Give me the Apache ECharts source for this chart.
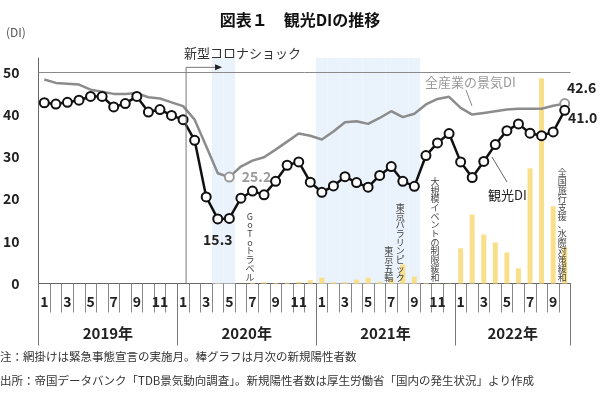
<!DOCTYPE html>
<html><head><meta charset="utf-8">
<script src="https://cdn.jsdelivr.net/npm/echarts@6/dist/echarts.min.js"></script>
<style>html,body{margin:0;padding:0;background:#fff}#c{width:600px;height:394px}</style>
</head><body><div id="c"></div>
<script>
// ---- data ----
const months = [
 '2019-01','2019-02','2019-03','2019-04','2019-05','2019-06','2019-07','2019-08','2019-09','2019-10','2019-11','2019-12',
 '2020-01','2020-02','2020-03','2020-04','2020-05','2020-06','2020-07','2020-08','2020-09','2020-10','2020-11','2020-12',
 '2021-01','2021-02','2021-03','2021-04','2021-05','2021-06','2021-07','2021-08','2021-09','2021-10','2021-11','2021-12',
 '2022-01','2022-02','2022-03','2022-04','2022-05','2022-06','2022-07','2022-08','2022-09','2022-10'];
const yearNames = ['2019年','2020年','2021年','2022年'];
const yearMonthCounts = [12,12,12,10];
const yTicks = [0,10,20,30,40,50];
const tourismDI = [
 42.8,42.5,42.9,43.4,44.3,44.3,41.8,42.6,44.3,40.6,41.2,39.8,
 38.8,33.9,20.5,15.3,15.4,20.2,21.9,21.0,24.2,28.0,28.8,24.0,
 21.6,23.1,25.3,23.9,22.8,25.6,27.7,24.2,23.0,30.3,33.3,35.5,
 28.8,25.1,28.9,32.9,36.2,37.8,35.6,35.0,35.9,41.0];
const allIndustryDI = [
 48.3,47.5,47.3,47.1,45.9,45.4,44.9,44.9,45.1,44.1,43.8,42.9,
 42.0,38.8,32.5,26.1,25.2,27.7,29.1,29.9,31.7,33.6,35.5,35.0,
 34.1,36.0,38.2,38.4,37.8,39.2,40.8,39.4,40.2,42.4,43.7,44.2,
 41.6,40.0,40.4,40.8,41.2,41.4,41.4,41.4,42.1,42.6];
// monthly new positive cases (10k persons)
const newCases = [
 0,0,0,0,0,0,0,0,0,0,0,0,
 0,0.1,0.3,1.2,0.2,0.2,1.7,3.2,1.5,1.9,4.7,9.5,
 17,4,4,11,17,5,13,55,20,1.5,0.5,0.5,
 102,200,142,119,90,44,334,595,224,105];
const emergencyMonths = ['2020-04','2020-05',
 '2021-01','2021-02','2021-03','2021-04','2021-05','2021-06','2021-07','2021-08','2021-09'];
const annotations = [
 {text:'GoToトラベル', month:'2020-07'},
 {text:'東京五輪', month:'2021-07'},
 {text:'東京パラリンピック', month:'2021-08'},
 {text:'大規模イベントの制限緩和', month:'2021-11'},
 {text:'全国旅行支援、水際対策緩和', month:'2022-10'}];

// ---- derived axis helpers ----
const yearBoundaryIdx = [0];
yearMonthCounts.forEach(c => yearBoundaryIdx.push(yearBoundaryIdx[yearBoundaryIdx.length-1] + c));
const boundaryCats = [];
for (let i = 0; i <= months.length; i++) boundaryCats.push('');
yearNames.forEach((n, k) => { boundaryCats[yearBoundaryIdx[k] + yearMonthCounts[k] / 2] = n; });
const shadeData = months.map(m => emergencyMonths.indexOf(m) >= 0 ? 1 : null);

const FF = "'Noto Sans CJK JP', 'Noto Sans', sans-serif";
const hiIdxAll = [16, 45];

const tourData = tourismDI.map((v, i) => {
  const d = {value: v};
  if (i === 15) d.label = {show:true, position:'bottom', distance:8, formatter:'15.3'};
  if (i === 45) d.label = {show:true, position:'bottom', distance:0, offset:[18,-5], formatter:'41.0'};
  return d;
});
const allData = allIndustryDI.map((v, i) => {
  const d = {value: v};
  if (i === 16) d.label = {show:true, position:'right', distance:7, formatter:'25.2', color:'#9a9a9a'};
  if (i === 45) d.label = {show:true, position:'top', distance:3, offset:[17,0], formatter:'42.6', color:'#222'};
  return d;
});

const option = {
  animation: false,
  textStyle: {fontFamily: FF},
  grid: {left: 36, right: 29.5, top: 58, bottom: 110.5},
  xAxis: [
    {type:'category', data: months, boundaryGap: true, position:'bottom',
     axisLine:{show:true, lineStyle:{color:'#666', width:1}},
     axisTick:{show:true, interval:0, length:29, lineStyle:{color:'#888'}},
     axisLabel:{interval:0, margin:11, fontSize:14, fontWeight:'bold', color:'#222', fontFamily:FF,
       formatter: v => { const m = +v.slice(5); return m % 2 === 1 ? String(m) : ''; }},
     splitLine:{show:false}},
    {type:'category', data: boundaryCats, boundaryGap: false, position:'bottom',
     axisLine:{show:false},
     axisTick:{show:true, interval:(i) => yearBoundaryIdx.indexOf(i) >= 0, length:62, lineStyle:{color:'#777'}},
     axisLabel:{interval:(i, v) => v !== '', margin:42, fontSize:15, fontWeight:'bold', color:'#222', fontFamily:FF},
     splitLine:{show:false}},
    {type:'category', data: months, boundaryGap: true, show:false}
  ],
  yAxis: [
    {type:'value', min:0, max:53.4, interval:10,
     axisLine:{show:true, lineStyle:{color:'#666'}}, axisTick:{show:false}, splitLine:{show:false},
     axisLabel:{showMaxLabel:false, fontSize:14, fontWeight:'bold', color:'#222', margin:19, fontFamily:FF,
       formatter: v => yTicks.indexOf(v) >= 0 ? String(v) : ''}},
    {type:'value', min:0, max:654, show:false, splitLine:{show:false}},
    {type:'value', min:0, max:1, show:false, splitLine:{show:false}}
  ],
  series: [
    {type:'bar', name:'緊急事態宣言', data: shadeData, xAxisIndex:2, yAxisIndex:2, barWidth:'100%', z:0, silent:true,
     itemStyle:{color:'#EAF2FB'},
     markLine:{silent:true, symbol:'none', label:{show:false}, lineStyle:{color:'#8a8a8a', width:1, type:'solid'},
       data:[{yAxis:1}]}},
    {type:'line', name:'gridline', data: months.map(() => null), z:1, silent:true, symbol:'none',
     markLine:{silent:true, symbol:'none', label:{show:false}, lineStyle:{color:'#8a8a8a', width:1, type:'solid'},
       data:[{yAxis:50}]}},
    {type:'bar', name:'新規陽性者数', data: newCases, yAxisIndex:1, barWidth:5, z:2, silent:true,
     itemStyle:{color:'#FADF8A'}},
    {type:'line', name:'全産業の景気DI', data: allData, z:3, silent:true,
     lineStyle:{color:'#8c8c8c', width:2.5},
     symbol:'circle', showSymbol:true, showAllSymbol:true,
     symbolSize:(v, p) => hiIdxAll.indexOf(p.dataIndex) >= 0 ? 9 : 0,
     itemStyle:{color:'#fff', borderColor:'#9a9a9a', borderWidth:2},
     label:{fontSize:14, fontWeight:'bold', fontFamily:FF}},
    {type:'line', name:'観光DI', data: tourData, z:4, silent:true,
     lineStyle:{color:'#111', width:2.5},
     symbol:'circle', symbolSize:9, showAllSymbol:true,
     itemStyle:{color:'#fff', borderColor:'#111', borderWidth:2},
     label:{fontSize:14, fontWeight:'bold', color:'#222', fontFamily:FF}}
  ]
};
// the shade series does not need its own top line
option.series[0].markLine = undefined;

const chart = echarts.init(document.getElementById('c'), null, {renderer:'canvas'});
chart.setOption(option);

const P = (cat, v) => chart.convertToPixel({xAxisIndex:0, yAxisIndex:0}, [cat, v]);
const y0 = P(months[0], 0)[1];
const y50 = P(months[0], 50)[1];
const xCorona = P('2020-01', 0)[0] + 3;
const arrowY = y50 - 5;

const graphics = [
  {type:'text', x:300, y:20, style:{text:'図表１　観光DIの推移', font:"bold 16px " + FF, fill:'#111', align:'center', verticalAlign:'middle'}},
  {type:'text', x:6, y:32, style:{text:'(DI)', font:"12px " + FF, fill:'#555', align:'left', verticalAlign:'middle'}},
  {type:'text', x:xCorona - 2, y:53, style:{text:'新型コロナショック', font:"13px " + FF, fill:'#333', align:'left', verticalAlign:'middle'}},
  {type:'polyline', z:10, shape:{points:[[xCorona, y0], [xCorona, arrowY], [xCorona + 30, arrowY]]}, style:{stroke:'#777', lineWidth:1, fill:null}},
  {type:'polygon', z:10, shape:{points:[[xCorona + 36, arrowY], [xCorona + 29, arrowY - 3], [xCorona + 29, arrowY + 3]]}, style:{fill:'#222'}},
  {type:'text', x:425, y:82, z:10, style:{text:'全産業の景気DI', font:"13px " + FF, fill:'#999', align:'left', verticalAlign:'middle'}},
  {type:'line', z:10, shape:{x1:466, y1:90, x2:472, y2:106}, style:{stroke:'#888', lineWidth:1}},
  {type:'text', x:488, y:195, z:10, style:{text:'観光DI', font:"13px " + FF, fill:'#222', align:'left', verticalAlign:'middle'}},
  {type:'line', z:10, shape:{x1:492, y1:157, x2:507, y2:182}, style:{stroke:'#666', lineWidth:1}},
  {type:'text', x:0, y:357, style:{text:'注：網掛けは緊急事態宣言の実施月。棒グラフは月次の新規陽性者数', font:"11.5px " + FF, fill:'#333', align:'left', verticalAlign:'middle'}},
  {type:'text', x:0, y:381, style:{text:'出所：帝国データバンク「TDB景気動向調査」。新規陽性者数は厚生労働省「国内の発生状況」より作成', font:"11.5px " + FF, fill:'#333', align:'left', verticalAlign:'middle'}}
];
annotations.forEach(a => {
  graphics.push({type:'text', z:10, x: P(a.month, 0)[0] - 2.5, y: y0 - 2,
    style:{text: a.text.split('').join('\n'), font:"9px " + FF, lineHeight:8.7, fill:'#444', align:'center', verticalAlign:'bottom'}});
});
chart.setOption({graphic: graphics});
</script>
</body></html>
